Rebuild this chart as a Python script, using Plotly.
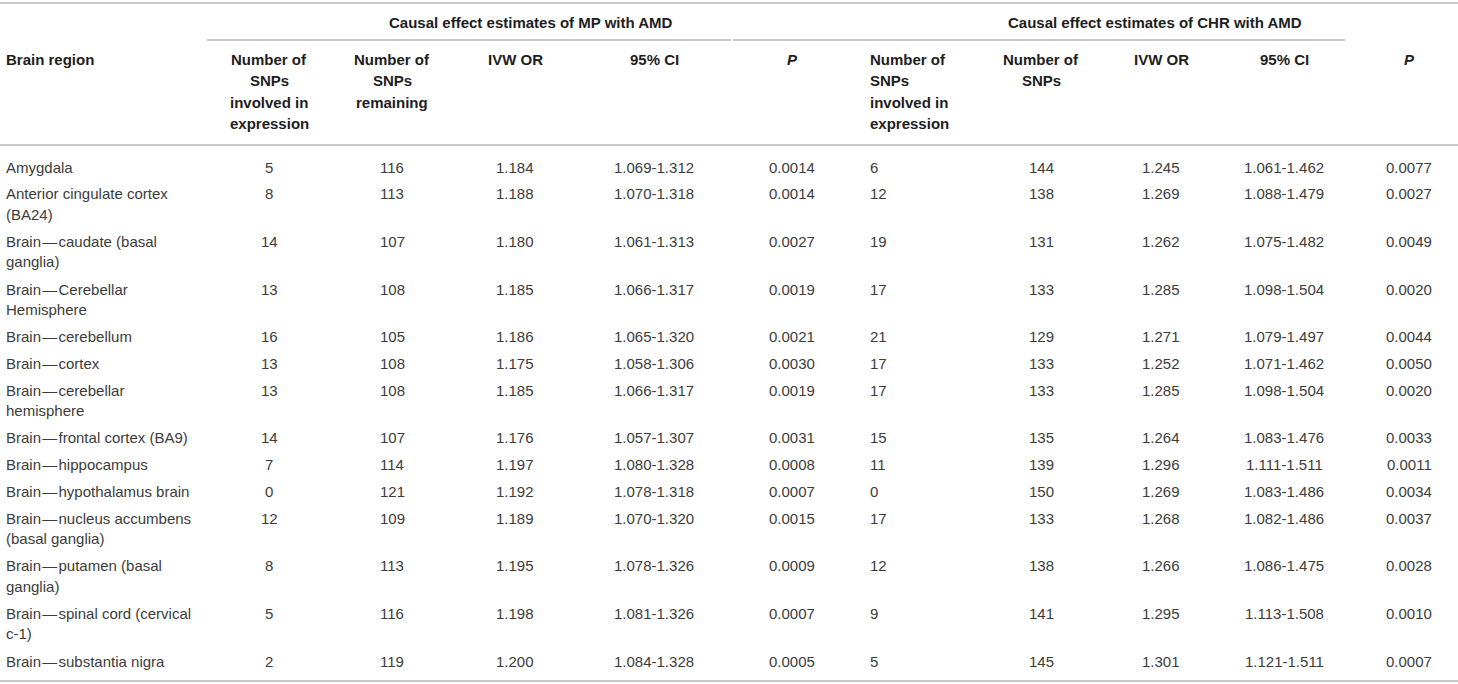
import plotly.graph_objects as go

# table content
regions = [
    "Amygdala",
    "Anterior cingulate cortex<br>(BA24)",
    "Brain\u2014caudate (basal<br>ganglia)",
    "Brain\u2014Cerebellar<br>Hemisphere",
    "Brain\u2014cerebellum",
    "Brain\u2014cortex",
    "Brain\u2014cerebellar<br>hemisphere",
    "Brain\u2014frontal cortex (BA9)",
    "Brain\u2014hippocampus",
    "Brain\u2014hypothalamus brain",
    "Brain\u2014nucleus accumbens<br>(basal ganglia)",
    "Brain\u2014putamen (basal<br>ganglia)",
    "Brain\u2014spinal cord (cervical<br>c-1)",
    "Brain\u2014substantia nigra",
]
mp_n_expr = [5, 8, 14, 13, 16, 13, 13, 14, 7, 0, 12, 8, 5, 2]
mp_n_remain = [116, 113, 107, 108, 105, 108, 108, 107, 114, 121, 109, 113, 116, 119]
mp_or = ["1.184", "1.188", "1.180", "1.185", "1.186", "1.175", "1.185",
         "1.176", "1.197", "1.192", "1.189", "1.195", "1.198", "1.200"]
mp_ci = ["1.069-1.312", "1.070-1.318", "1.061-1.313", "1.066-1.317", "1.065-1.320",
         "1.058-1.306", "1.066-1.317", "1.057-1.307", "1.080-1.328", "1.078-1.318",
         "1.070-1.320", "1.078-1.326", "1.081-1.326", "1.084-1.328"]
mp_p = ["0.0014", "0.0014", "0.0027", "0.0019", "0.0021", "0.0030", "0.0019",
        "0.0031", "0.0008", "0.0007", "0.0015", "0.0009", "0.0007", "0.0005"]
chr_n_expr = [6, 12, 19, 17, 21, 17, 17, 15, 11, 0, 17, 12, 9, 5]
chr_n = [144, 138, 131, 133, 129, 133, 133, 135, 139, 150, 133, 138, 141, 145]
chr_or = ["1.245", "1.269", "1.262", "1.285", "1.271", "1.252", "1.285",
          "1.264", "1.296", "1.269", "1.268", "1.266", "1.295", "1.301"]
chr_ci = ["1.061-1.462", "1.088-1.479", "1.075-1.482", "1.098-1.504", "1.079-1.497",
          "1.071-1.462", "1.098-1.504", "1.083-1.476", "1.111-1.511", "1.083-1.486",
          "1.082-1.486", "1.086-1.475", "1.113-1.508", "1.121-1.511"]
chr_p = ["0.0077", "0.0027", "0.0049", "0.0020", "0.0044", "0.0050", "0.0020",
         "0.0033", "0.0011", "0.0034", "0.0037", "0.0028", "0.0010", "0.0007"]

group_titles = ["Causal effect estimates of MP with AMD",
                "Causal effect estimates of CHR with AMD"]
col_headers = [
    "Brain region",
    "Number of<br>SNPs<br>involved in<br>expression",
    "Number of<br>SNPs<br>remaining",
    "IVW OR",
    "95% CI",
    "<i>P</i>",
    "Number of<br>SNPs<br>involved in<br>expression",
    "Number of<br>SNPs",
    "IVW OR",
    "95% CI",
    "<i>P</i>",
]

W, H = 1458, 684
FONT = "Liberation Sans, Arial, Helvetica, sans-serif"
TXT = "#3c3c3c"
HEAD = "#1e1e1e"
RULE = "#c9c9c9"

# column anchor x and alignment
col_x = [4, 269, 392, 515, 654, 792, 868, 1041, 1161, 1284, 1409]
col_align = ["left", "center", "center", "center", "center", "center",
             "left", "center", "center", "center", "center"]
columns = [regions, mp_n_expr, mp_n_remain, mp_or, mp_ci, mp_p,
           chr_n_expr, chr_n, chr_or, chr_ci, chr_p]

fig = go.Figure()
annots = []


def add_text(txt, x, y, align, bold=False, gap=21.0, color=TXT):
    # one annotation per line so the line spacing can be set
    txt = str(txt).replace("\u2014", "\u200a\u2014\u200a")
    for i, line in enumerate(txt.split("<br>")):
        annots.append(dict(
            x=x, y=y + i * gap, xref="x", yref="y",
            text=("<b>%s</b>" % line) if bold else line,
            showarrow=False, xanchor=align, yanchor="middle",
            font=dict(family=FONT, size=15, color=color),
        ))


# group titles
add_text(group_titles[0], 531, 22, "center", bold=True, color=HEAD)
add_text(group_titles[1], 1155, 22, "center", bold=True, color=HEAD)

# column headers
for h, x, al in zip(col_headers, col_x, col_align):
    add_text(h, x, 59, al, bold=True, gap=21.6, color=HEAD)

# body rows
y = 167.0
for r in range(len(regions)):
    nlines = regions[r].count("<br>") + 1
    for col, x, al in zip(columns, col_x, col_align):
        add_text(col[r], x, y, al, gap=20.5)
    y += 26.8 + 20.8 * (nlines - 1)

# rules
rules = [(0, W, 3), (207, 731, 40), (733, 1345, 40), (0, W, 145), (0, W, 681)]
shapes = [dict(type="line", xref="x", yref="y", x0=a, x1=b, y0=yy, y1=yy,
               line=dict(color=RULE, width=2)) for a, b, yy in rules]

fig.add_trace(go.Scatter(x=[0, W], y=[0, H], mode="markers",
                         marker=dict(opacity=0), hoverinfo="skip", showlegend=False))

fig.update_layout(
    width=W, height=H,
    margin=dict(l=0, r=0, t=0, b=0),
    paper_bgcolor="white", plot_bgcolor="white",
    xaxis=dict(range=[0, W], visible=False, fixedrange=True),
    yaxis=dict(range=[H, 0], visible=False, fixedrange=True),
    annotations=annots,
    shapes=shapes,
    showlegend=False,
)

fig.write_html("out.html", config={"displayModeBar": False},
               post_script="document.body.style.margin='0';")
